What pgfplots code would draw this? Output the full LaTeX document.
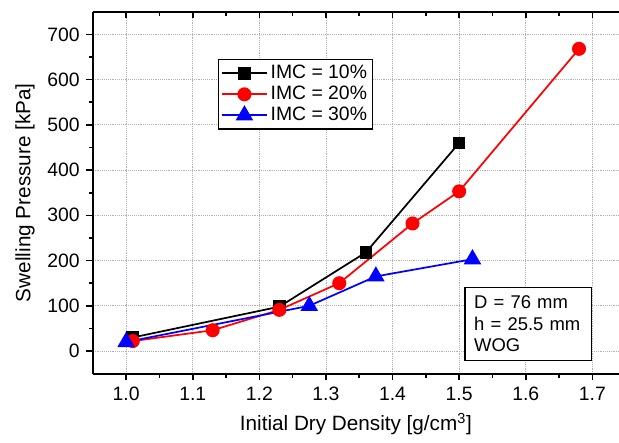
\documentclass[border=0pt]{standalone}
\usepackage{pgfplots}
\pgfplotsset{compat=1.18}
\usepackage{fontspec}
\setmainfont{Liberation Sans}

\pgfplotstableread{
x y
1.01 30
1.23 98
1.36 218
1.50 460
}\imcten
\pgfplotstableread{
x y
1.01 22
1.13 46
1.23 91
1.32 150
1.43 282
1.50 353
1.68 668
}\imctwenty
\pgfplotstableread{
x y
1.00 20
1.275 100
1.375 165
1.52 203
}\imcthirty

\begin{document}
\fontsize{14}{16}\selectfont
\begin{tikzpicture}
\begin{axis}[
  scale only axis, width=394pt, height=271pt,
  xmin=0.95, xmax=1.74, ymin=-50, ymax=750,
  axis y line*=left, axis x line*=bottom,
  axis line style={line width=1.4pt, -},
  xtick={1.0,1.1,...,1.71}, ytick={0,100,...,700},
  minor x tick num=1, minor y tick num=1,
  tick align=outside, major tick length=5pt, minor tick length=3pt,
  every tick/.style={black, line width=1.2pt},
  grid=major, major grid style={densely dotted, gray!60, line width=0.6pt},
  /pgf/number format/assume math mode=true,
  xticklabel style={/pgf/number format/.cd, fixed, fixed zerofill, precision=1},
  yticklabel style={/pgf/number format/.cd, fixed},
  tick label style={font=\fontsize{14.5}{16}\selectfont},
  label style={font=\fontsize{15.5}{18}\selectfont},
  xlabel={Initial Dry Density [g/cm\textsuperscript{3}]},
  ylabel={Swelling Pressure [kPa]},
  legend style={at={(rel axis cs:0.237,0.869)}, anchor=north west, draw=black, line width=1pt,
    font=\fontsize{14.5}{16}\selectfont, inner sep=2pt, row sep=-0.5pt},
  legend cell align=left,
  legend image code/.code={\draw[mark repeat=2,mark phase=2] plot coordinates {(0pt,0pt) (17pt,0pt) (34pt,0pt)};},
]
\addplot[black, line width=1.3pt, mark=square*, mark size=4.1pt, mark options={solid}] table[x=x,y=y] {\imcten};
\addlegendentry{IMC = 10\%}
\addplot[red, line width=1.3pt, mark=*, mark size=4.6pt, mark options={solid}] table[x=x,y=y] {\imctwenty};
\addlegendentry{IMC = 20\%}
\addplot[blue, line width=1.3pt, mark=triangle*, mark size=6.3pt, mark options={solid}] table[x=x,y=y] {\imcthirty};
\addlegendentry{IMC = 30\%}
\node[draw, line width=0.9pt, anchor=south west, align=left, inner xsep=7pt, inner ysep=6.5pt,
  text width=81pt, font=\fontsize{13.8}{16}\selectfont, fill=white] at (rel axis cs:0.706,0.035) {D = 76 mm\\h = 25.5\ mm\\WOG};
\end{axis}
\begin{axis}[
  scale only axis, width=394pt, height=271pt,
  xmin=0.95, xmax=1.74, ymin=-50, ymax=750,
  axis x line*=top, hide y axis,
  axis line style={line width=1.4pt, -},
  xtick={1.0,1.1,...,1.71}, xticklabels={},
  minor x tick num=1,
  tick align=inside, major tick length=5pt, minor tick length=3pt,
  every tick/.style={black, line width=1.2pt},
]
\end{axis}
\pgfresetboundingbox
\path ([xshift=-69.5pt,yshift=-51.2pt]current axis.south west) rectangle ([yshift=8.8pt]current axis.north east);
\end{tikzpicture}
\end{document}
